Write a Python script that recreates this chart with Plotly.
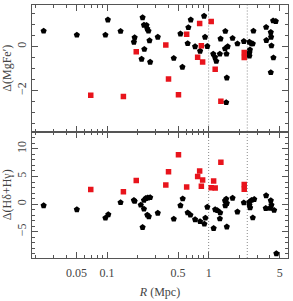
import plotly.graph_objects as go

# ---------------- data ----------------
# top panel: Delta(MgFe')
top_black_R = [0.0238, 0.0505, 0.102, 0.0965, 0.136, 0.187, 0.184, 0.224, 0.231, 0.245,
               0.249, 0.256, 0.262, 0.233, 0.219, 0.266, 0.316, 0.454, 0.552, 0.528,
               0.632, 0.667, 0.622, 0.736, 0.824, 0.902, 0.922, 0.971, 1.11, 1.155,
               1.19, 1.29, 1.31, 1.46, 1.45, 1.54, 1.50, 1.51, 1.49, 1.72,
               1.92, 2.22, 2.52, 2.64, 2.72, 2.76, 2.55, 2.52, 2.52, 3.68,
               4.09, 4.31, 4.58, 4.12, 3.70, 4.15, 4.34, 4.09]
top_black_v = [0.71, 0.53, 1.22, 0.53, 0.70, 0.41, 0.20, 1.32, 0.98, 0.97,
               0.81, 0.71, 0.27, -0.12, -0.57, -0.71, 0.43, -0.53, -0.94, 0.58,
               0.87, 1.22, 0.14, 0.0, -0.21, 1.39, 0.43, 0.01, -0.34, -0.49,
               -0.67, -0.34, 0.35, 0.70, -0.10, 0.0, -0.34, -1.43, -2.55, 0.38,
               0.13, 0.24, 0.20, 0.13, 0.13, 0.71, -0.15, -0.29, -0.43, 0.88,
               0.65, 1.18, 1.15, 0.43, 0.28, 0.04, -0.51, -1.18]
top_red_R = [0.0692, 0.145, 0.194, 0.379, 0.403, 0.505, 0.608, 0.816, 0.848, 0.780,
             0.873, 1.06, 1.16, 1.32, 2.24, 2.24]
top_red_v = [-2.22, -2.28, -0.24, 0.07, -1.48, -2.20, 0.56, 1.05, 0.04, -0.49,
             -0.71, 1.14, -1.04, -2.50, -0.27, -0.50]

# bottom panel: Delta(Hdelta+Hgamma)
bot_black_R = [0.0238, 0.0505, 0.0965, 0.103, 0.136, 0.184, 0.187, 0.215, 0.231, 0.224,
               0.231, 0.241, 0.252, 0.266, 0.249, 0.258, 0.316, 0.454, 0.528, 0.556,
               0.622, 0.662, 0.736, 0.824, 0.908, 0.929, 0.971, 1.12, 1.16, 1.22,
               1.30, 1.29, 1.45, 1.49, 1.51, 1.46, 1.51, 1.72, 1.92, 2.22,
               2.52, 2.56, 2.64, 2.81, 2.72, 2.52, 3.68, 4.09, 4.15, 3.65,
               4.03, 4.41, 4.64]
bot_black_v = [-0.25, -0.98, -2.51, -1.90, 0.31, 0.71, 0.54, -0.14, -0.88, -4.20,
               0.71, 1.05, 1.15, 1.22, -1.95, -2.24, -1.61, -2.68, -0.25, 0.98,
               -1.56, -1.95, -2.80, -3.14, -3.59, -2.51, -0.54, -4.37, -0.98, -1.15,
               -1.56, -2.63, 0.59, 0.93, 0.14, -0.25, -4.10, 1.10, -1.39, 0.25,
               -0.14, -0.64, 0.71, 0.88, -2.46, 0.37, 1.56, 0.64, -0.14, -0.76,
               -0.71, -1.10, -8.95]
bot_red_R = [0.0692, 0.145, 0.194, 0.379, 0.403, 0.505, 0.608, 0.816, 0.780, 0.873,
             0.848, 1.32, 1.12, 1.06, 1.16, 2.24, 2.24]
bot_red_v = [2.63, 2.24, 4.27, 3.47, 5.85, 8.95, 3.08, 5.97, 5.0, 4.37,
             3.25, 7.59, 4.20, 2.97, 2.92, 3.53, 2.68]

vlines_R = [1.0, 2.4]
x_tickvals = [0.05, 0.1, 0.5, 1, 5]
x_ticktext = ["0.05", "0.1", "0.5", "1", "5"]
x_minor = [0.02, 0.03, 0.04, 0.06, 0.07, 0.08, 0.09, 0.2, 0.3, 0.4, 0.6, 0.7, 0.8, 0.9,
           2, 3, 4, 6]

# ---------------- figure ----------------
BLACK = "#000000"
RED = "#e8141c"
AX = "#555555"
TXT = "#444444"
FONT = "Liberation Serif"

fig = go.Figure()

def add(xs, ys, color, symbol, size, xa, ya):
    fig.add_trace(go.Scatter(x=xs, y=ys, mode="markers", xaxis=xa, yaxis=ya,
                             marker=dict(color=color, symbol=symbol, size=size,
                                         line=dict(width=0)),
                             showlegend=False, hoverinfo="skip"))

add(top_black_R, top_black_v, BLACK, "pentagon", 6.5, "x2", "y2")
add(top_red_R, top_red_v, RED, "square", 5.5, "x2", "y2")
add(bot_black_R, bot_black_v, BLACK, "pentagon", 6.5, "x", "y")
add(bot_red_R, bot_red_v, RED, "square", 5.5, "x", "y")

xrange = [-1.738, 0.781]

common_x = dict(type="log", range=xrange, showgrid=False, zeroline=False,
                showline=True, linecolor=AX, linewidth=1, mirror="allticks",
                ticks="inside", ticklen=6, tickcolor=AX, tickwidth=1,
                tickmode="array", tickvals=x_tickvals, ticktext=x_ticktext,
                minor=dict(ticks="inside", ticklen=3, tickcolor=AX, tickwidth=1,
                           tickmode="array", tickvals=x_minor, showgrid=False),
                tickfont=dict(family=FONT, size=12, color=TXT))

common_y = dict(showgrid=False, zeroline=False, showline=True, linecolor=AX,
                linewidth=1, mirror="allticks", ticks="inside", ticklen=6,
                tickcolor=AX, tickwidth=1, tickangle=-90,
                tickfont=dict(family=FONT, size=12, color=TXT))

fig.update_layout(
    width=293, height=301,
    margin=dict(l=32, r=4, t=5, b=26),
    paper_bgcolor="white", plot_bgcolor="white",
    xaxis=dict(**common_x, anchor="y", ticklabelstandoff=4,
               title=dict(text="<i>R</i> (Mpc)", standoff=8,
                          font=dict(family=FONT, size=12, color=TXT))),
    xaxis2=dict(**common_x, anchor="y2", matches="x", showticklabels=False),
    yaxis=dict(**common_y, domain=[0, 0.5], anchor="x", range=[-9.75, 13.14],
               tickmode="array", tickvals=[-5, 0, 5, 10], ticktext=["−5", "0", "5", "10"],
               minor=dict(ticks="inside", ticklen=3, tickcolor=AX, dtick=1, showgrid=False),
               title=dict(text="Δ(Hδ+Hγ)", standoff=3,
                          font=dict(family=FONT, size=12, color=TXT))),
    yaxis2=dict(**common_y, domain=[0.5, 1], anchor="x2", range=[-3.876, 1.893],
                tickmode="array", tickvals=[-2, 0], ticktext=["−2", "0"],
                minor=dict(ticks="inside", ticklen=3, tickcolor=AX, dtick=0.5, showgrid=False),
                title=dict(text="Δ(MgFe′)", standoff=3,
                           font=dict(family=FONT, size=12, color=TXT))),
)

for r in vlines_R:
    for xa, ya in (("x", "y domain"), ("x2", "y2 domain")):
        fig.add_shape(type="line", xref=xa, yref=ya, x0=r, x1=r, y0=0, y1=1,
                      line=dict(color="#8a8a8a", width=1, dash="1px,2px"), layer="below")

fig.write_html("out.html")
